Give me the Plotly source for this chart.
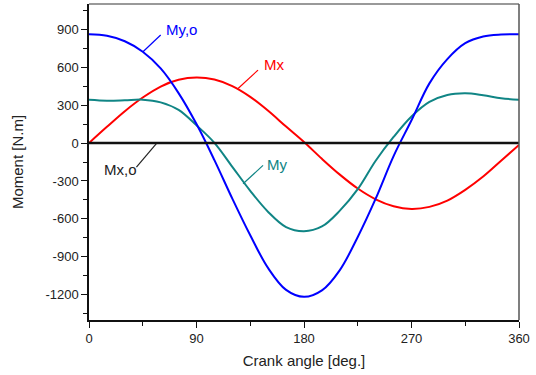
import plotly.graph_objects as go

angle = [0, 15, 30, 45, 60, 75, 90, 105, 120, 135, 150, 165, 180,
         195, 210, 225, 240, 255, 270, 285, 300, 315, 330, 345, 360]

my_o = [860, 848, 805, 722, 590, 395, 150, -135, -440, -730, -990, -1162, -1217,
        -1166, -1005, -743, -440, -103, 180, 472, 664, 790, 843, 858, 860]

mx = [0, 128, 252, 360, 447, 500, 518, 502, 450, 365, 255, 130, 8,
      -125, -250, -360, -445, -500, -521, -505, -455, -370, -265, -140, -15]

my = [342, 335, 338, 343, 322, 262, 140, 2, -188, -378, -545, -665, -698,
      -660, -535, -365, -140, 48, 210, 325, 380, 393, 378, 355, 342]

mx_o = [0] * len(angle)

x_ticks = [0, 90, 180, 270, 360]
y_ticks = [-1200, -900, -600, -300, 0, 300, 600, 900]

# label text, colour, text anchor (angle, value), leader line start and end
labels = [
    ("My,o", "#0000FF", (62.6, 895), (45.2, 722), (60.0, 855)),
    ("Mx", "#FF0000", (144.6, 625), (124.8, 432), (141.5, 577)),
    ("My", "#108585", (147.2, -169), (129.0, -322), (145.7, -177)),
    ("Mx,o", "#222222", (10.6, -209), (39.7, -190), (56.4, -5)),
]

FONT = "Arial, Liberation Sans, sans-serif"

fig = go.Figure()
fig.add_trace(go.Scatter(x=angle, y=mx, mode="lines", line=dict(color="#FF0000", width=2, shape="spline"), name="Mx"))
fig.add_trace(go.Scatter(x=angle, y=my, mode="lines", line=dict(color="#108585", width=2, shape="spline"), name="My"))
fig.add_trace(go.Scatter(x=angle, y=my_o, mode="lines", line=dict(color="#0000FF", width=2, shape="spline"), name="My,o"))
fig.add_trace(go.Scatter(x=angle, y=mx_o, mode="lines", line=dict(color="#111111", width=2.5), name="Mx,o"))

for text, col, (tx, ty), (x0, y0), (x1, y1) in labels:
    fig.add_shape(type="line", xref="x", yref="y", x0=x0, y0=y0, x1=x1, y1=y1,
                  line=dict(color=col, width=1.2))
    fig.add_annotation(x=tx, y=ty, xref="x", yref="y", text=text, showarrow=False,
                       xanchor="left", yanchor="middle",
                       font=dict(family=FONT, size=15, color=col))

# top and right frame lines
fig.add_shape(type="line", xref="paper", yref="paper", x0=0, y0=1, x1=1, y1=1,
              line=dict(color="#777777", width=1.5))
fig.add_shape(type="line", xref="paper", yref="paper", x0=1, y0=0, x1=1, y1=1,
              line=dict(color="#555555", width=1.5))

fig.update_layout(
    width=536, height=375,
    margin=dict(l=89, r=17, t=4, b=55),
    paper_bgcolor="white", plot_bgcolor="white",
    showlegend=False,
    font=dict(family=FONT, size=13, color="#222222"),
)
fig.update_xaxes(
    range=[0, 360], tickvals=x_ticks, ticktext=[str(v) for v in x_ticks],
    showgrid=False, zeroline=False,
    showline=True, linecolor="#111111", linewidth=1.5,
    ticks="outside", ticklen=6, tickwidth=1, tickcolor="#111111",
    minor=dict(tickvals=[45, 135, 225, 315], ticks="outside", ticklen=4, tickcolor="#111111"),
    tickfont=dict(size=13),
    title=dict(text="Crank angle [deg.]", font=dict(size=15), standoff=10),
)
fig.update_yaxes(
    range=[-1400, 1100], tickvals=y_ticks, ticktext=[str(v) for v in y_ticks],
    showgrid=False, zeroline=False,
    showline=True, linecolor="#111111", linewidth=1.5,
    ticks="outside", ticklen=6, tickwidth=1, tickcolor="#111111",
    minor=dict(tickvals=[-1350, -1050, -750, -450, -150, 150, 450, 750, 1050],
               ticks="outside", ticklen=4, tickcolor="#111111"),
    tickfont=dict(size=13),
    title=dict(text="Moment [N.m]", font=dict(size=15), standoff=18),
)

fig.write_html("out.html")
